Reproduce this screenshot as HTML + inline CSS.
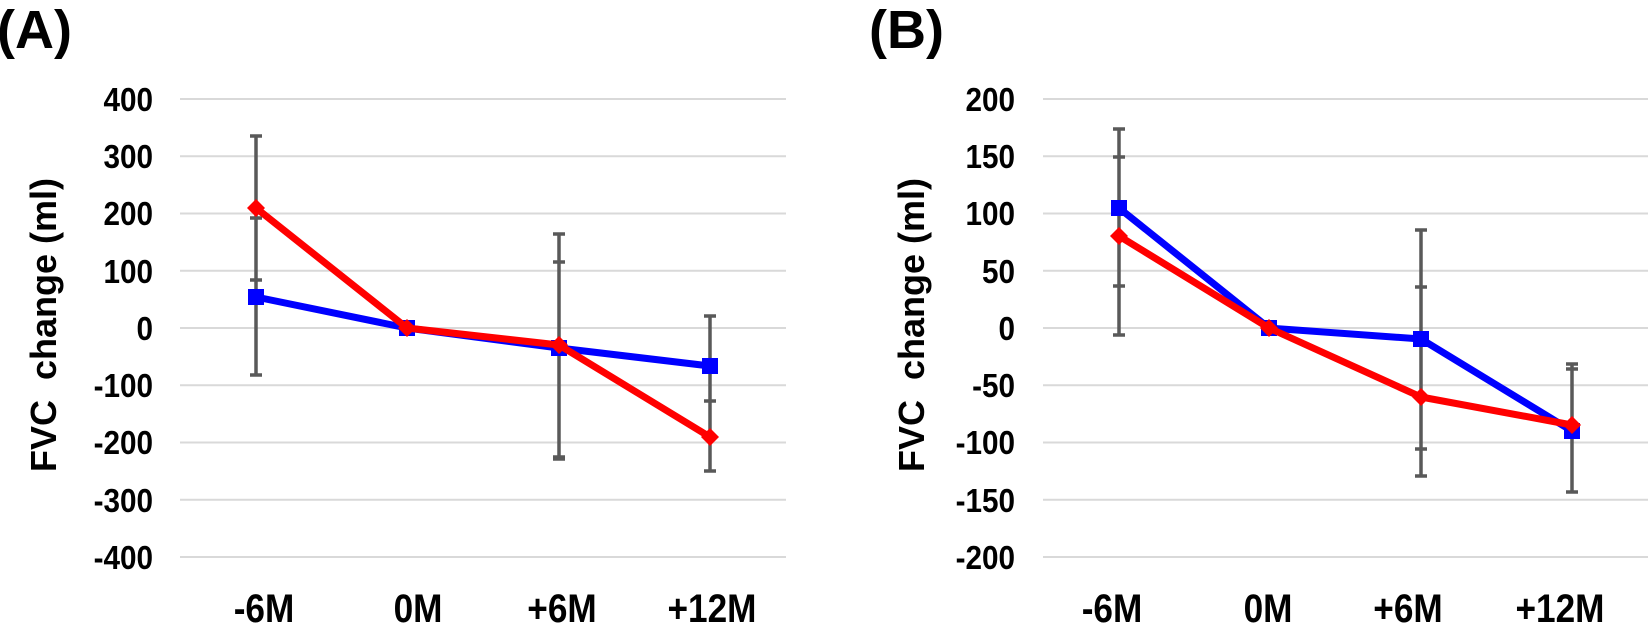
<!DOCTYPE html>
<html><head><meta charset="utf-8"><style>
html,body{margin:0;padding:0;background:#fff;}
svg{display:block;font-family:"Liberation Sans",Arial,sans-serif;font-weight:bold;}
</style></head><body>
<svg width="1648" height="630" viewBox="0 0 1648 630" xmlns="http://www.w3.org/2000/svg">
<!-- Panel A -->
<text x="-3" y="48" font-size="54">(A)</text>
<g stroke="#d9d9d9" stroke-width="2">
<line x1="180" x2="786" y1="99" y2="99"/><line x1="180" x2="786" y1="156.25" y2="156.25"/>
<line x1="180" x2="786" y1="213.5" y2="213.5"/><line x1="180" x2="786" y1="270.75" y2="270.75"/>
<line x1="180" x2="786" y1="328" y2="328"/><line x1="180" x2="786" y1="385.25" y2="385.25"/>
<line x1="180" x2="786" y1="442.5" y2="442.5"/><line x1="180" x2="786" y1="499.75" y2="499.75"/>
<line x1="180" x2="786" y1="557" y2="557"/>
</g>
<g font-size="33" text-anchor="end" transform="translate(153,0) scale(0.9,1)">
<text x="0" y="111">400</text><text x="0" y="168">300</text><text x="0" y="225">200</text>
<text x="0" y="283">100</text><text x="0" y="340">0</text><text x="0" y="397">-100</text>
<text x="0" y="454">-200</text><text x="0" y="512">-300</text><text x="0" y="569">-400</text>
</g>
<text transform="translate(56,325) rotate(-90)" font-size="36" text-anchor="middle" xml:space="preserve">FVC  change (ml)</text>
<g font-size="40" text-anchor="middle">
<text transform="translate(264,622) scale(0.88,1)">-6M</text>
<text transform="translate(418,622) scale(0.88,1)">0M</text>
<text transform="translate(562,622) scale(0.88,1)">+6M</text>
<text transform="translate(712,622) scale(0.88,1)">+12M</text>
</g>
<g stroke="#595959" stroke-width="3.5">
<line x1="256" x2="256" y1="136" y2="375"/>
<line x1="250" x2="262" y1="136" y2="136"/><line x1="250" x2="262" y1="218" y2="218"/>
<line x1="250" x2="262" y1="280" y2="280"/><line x1="250" x2="262" y1="375" y2="375"/>
<line x1="559" x2="559" y1="234" y2="459"/>
<line x1="553" x2="565" y1="234" y2="234"/><line x1="553" x2="565" y1="262" y2="262"/>
<line x1="553" x2="565" y1="457" y2="457"/><line x1="553" x2="565" y1="459" y2="459"/>
<line x1="710" x2="710" y1="316" y2="472"/>
<line x1="704" x2="716" y1="316" y2="316"/><line x1="704" x2="716" y1="401" y2="401"/>
<line x1="704" x2="716" y1="471" y2="471"/>
</g>
<polyline points="256,297 407,328 559,348 710,366" fill="none" stroke="#0000ff" stroke-width="7" stroke-linejoin="round"/>
<g fill="#0000ff"><rect x="248" y="289" width="16" height="16"/><rect x="399" y="320" width="16" height="16"/><rect x="551" y="340" width="16" height="16"/><rect x="702" y="358" width="16" height="16"/></g>
<polyline points="256,208 407,328 559,345 710,437" fill="none" stroke="#ff0000" stroke-width="7" stroke-linejoin="round"/>
<g fill="#ff0000"><polygon points="256,199 265,208 256,217 247,208"/><polygon points="407,319 416,328 407,337 398,328"/><polygon points="559,336 568,345 559,354 550,345"/><polygon points="710,428 719,437 710,446 701,437"/></g>

<!-- Panel B -->
<text x="869" y="48" font-size="54">(B)</text>
<g stroke="#d9d9d9" stroke-width="2">
<line x1="1043" x2="1648" y1="99" y2="99"/><line x1="1043" x2="1648" y1="156.25" y2="156.25"/>
<line x1="1043" x2="1648" y1="213.5" y2="213.5"/><line x1="1043" x2="1648" y1="270.75" y2="270.75"/>
<line x1="1043" x2="1648" y1="328" y2="328"/><line x1="1043" x2="1648" y1="385.25" y2="385.25"/>
<line x1="1043" x2="1648" y1="442.5" y2="442.5"/><line x1="1043" x2="1648" y1="499.75" y2="499.75"/>
<line x1="1043" x2="1648" y1="557" y2="557"/>
</g>
<g font-size="33" text-anchor="end" transform="translate(1015,0) scale(0.9,1)">
<text x="0" y="111">200</text><text x="0" y="168">150</text><text x="0" y="225">100</text>
<text x="0" y="283">50</text><text x="0" y="340">0</text><text x="0" y="397">-50</text>
<text x="0" y="454">-100</text><text x="0" y="512">-150</text><text x="0" y="569">-200</text>
</g>
<text transform="translate(924,325) rotate(-90)" font-size="36" text-anchor="middle" xml:space="preserve">FVC  change (ml)</text>
<g font-size="40" text-anchor="middle">
<text transform="translate(1112,622) scale(0.88,1)">-6M</text>
<text transform="translate(1268,622) scale(0.88,1)">0M</text>
<text transform="translate(1408,622) scale(0.88,1)">+6M</text>
<text transform="translate(1560,622) scale(0.88,1)">+12M</text>
</g>
<g stroke="#595959" stroke-width="3.5">
<line x1="1119" x2="1119" y1="129" y2="335"/>
<line x1="1113" x2="1125" y1="129" y2="129"/><line x1="1113" x2="1125" y1="157" y2="157"/>
<line x1="1113" x2="1125" y1="286" y2="286"/><line x1="1113" x2="1125" y1="335" y2="335"/>
<line x1="1421" x2="1421" y1="230" y2="476"/>
<line x1="1415" x2="1427" y1="230" y2="230"/><line x1="1415" x2="1427" y1="287" y2="287"/>
<line x1="1415" x2="1427" y1="449" y2="449"/><line x1="1415" x2="1427" y1="476" y2="476"/>
<line x1="1572" x2="1572" y1="364" y2="492"/>
<line x1="1566" x2="1578" y1="364" y2="364"/><line x1="1566" x2="1578" y1="369" y2="369"/>
<line x1="1566" x2="1578" y1="492" y2="492"/>
</g>
<polyline points="1119,208 1269,328 1421,339 1572,431" fill="none" stroke="#0000ff" stroke-width="7" stroke-linejoin="round"/>
<g fill="#0000ff"><rect x="1111" y="200" width="16" height="16"/><rect x="1261" y="320" width="16" height="16"/><rect x="1413" y="331" width="16" height="16"/><rect x="1564" y="423" width="16" height="16"/></g>
<polyline points="1119,236 1269,328 1421,397 1572,425" fill="none" stroke="#ff0000" stroke-width="7" stroke-linejoin="round"/>
<g fill="#ff0000"><polygon points="1119,227 1128,236 1119,245 1110,236"/><polygon points="1269,319 1278,328 1269,337 1260,328"/><polygon points="1421,388 1430,397 1421,406 1412,397"/><polygon points="1572,416 1581,425 1572,434 1563,425"/></g>
</svg>
</body></html>
